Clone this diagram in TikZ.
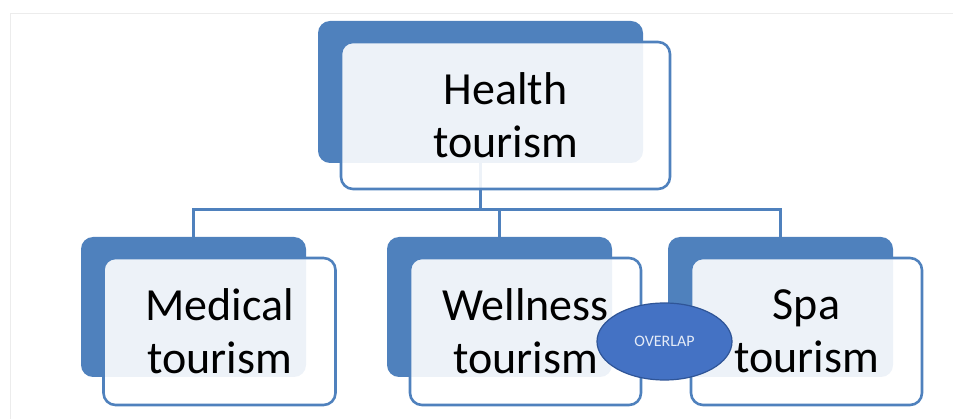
\documentclass[tikz,border=0pt]{standalone}
\usepackage{fontspec}
\setmainfont{Carlito}
\usetikzlibrary{shapes.geometric}

\definecolor{tileblue}{HTML}{4F81BD}
\definecolor{ovalblue}{HTML}{4472C4}
\definecolor{ovaledge}{HTML}{2F5597}
\definecolor{ovaltext}{HTML}{E4EBF7}
\definecolor{framegray}{HTML}{ECECEC}

\tikzset{
  backtile/.style={fill=tileblue, draw=none, rounded corners=12pt},
  fronttile/.style={draw=tileblue, line width=2.6pt, fill=white, fill opacity=0.9,
    text opacity=1, rounded corners=12pt, align=center, inner sep=0pt,
    font=\fontsize{46}{53}\selectfont, text=black},
  link/.style={draw=tileblue, line width=3pt},
  oval/.style={ellipse, fill=ovalblue, draw=ovaledge, line width=1.2pt,
    minimum width=135pt, minimum height=77pt, inner sep=0pt,
    text=ovaltext, font=\fontsize{16}{18}\selectfont}
}

\begin{document}
\begin{tikzpicture}[x=1pt, y=-1pt]
   \useasboundingbox (0,0) rectangle (953,419);
   \draw [framegray, line width=1pt] (10,419)--(10,14)--(953,14);

   % back tiles
   \node [backtile, minimum width=325pt, minimum height=142pt] (healthback) at (480.5,92) {};
   \node [backtile, minimum width=225pt, minimum height=140pt] (medback) at (193.5,307) {};
   \node [backtile, minimum width=225pt, minimum height=140pt] (wellback) at (499.5,307) {};
   \node [backtile, minimum width=225pt, minimum height=140pt] (spaback) at (780.5,307) {};

   % tree lines
   \coordinate (bus) at (480.5,210);
   \draw [link] (healthback.south) -- (bus);
   \draw [link] (medback.north) |- (bus) -| (spaback.north);
   \draw [link] (wellback.north) -- (wellback.north |- bus);

   % front tiles
   \node [fronttile, minimum width=329pt, minimum height=147pt] (health) at (505.5,115.5) {Health\\tourism};
   \node [fronttile, minimum width=232pt, minimum height=147pt] (medical) at (219.5,331.5) {Medical\\tourism};
   \node [fronttile, minimum width=231pt, minimum height=147pt] (wellness) at (525.5,331.5) {Wellness\\tourism};
   \node [fronttile, minimum width=231pt, minimum height=147pt] (spa) at (806.5,331.5) {Spa\\tourism};

   \node [oval] (overlap) at (664.5,341.5) {OVERLAP};
\end{tikzpicture}
\end{document}
